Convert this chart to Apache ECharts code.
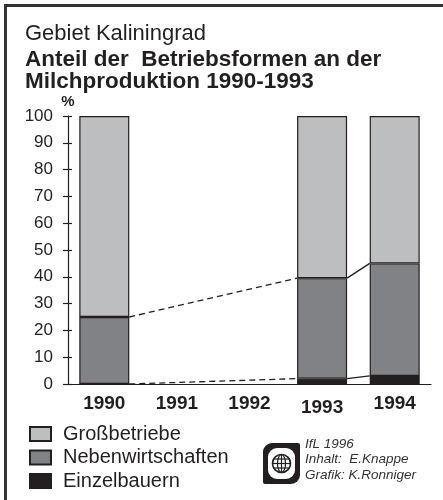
<!DOCTYPE html>
<html>
<head>
<meta charset="utf-8">
<script src="https://cdn.jsdelivr.net/npm/echarts@6/dist/echarts.min.js"></script>
<style>
  html, body { margin: 0; padding: 0; background: #fff; }
  #chart { width: 443px; height: 500px; }
</style>
</head>
<body>
<div id="chart"></div>
<script>
// values (percent of milk production)
const years = ['1990', '1991', '1992', '1993', '1994'];
const einzelbauern = [0, null, null, 2, 3];
const nebenwirtschaften = [25, null, null, 37.5, 42];
const grossbetriebe = [75, null, null, 60.5, 55];
// which bars get joined by the thin connector lines (dashed = years missing in between)
const links = [[0, 3, true], [3, 4, false]];

const BAR_W = 50;
const INK = '#231f20';
const FONT = 'Liberation Sans';

// connector ends sit on the cumulative tops of the lower two segments
const linkData = [];
links.forEach(function (l) {
  const a = l[0], b = l[1];
  linkData.push([a, b, einzelbauern[a], einzelbauern[b], l[2] ? 1 : 0]);
  linkData.push([a, b, einzelbauern[a] + nebenwirtschaften[a], einzelbauern[b] + nebenwirtschaften[b], l[2] ? 1 : 0]);
});

const chart = echarts.init(document.getElementById('chart'));

const barStyle = function (color) {
  return { color: color, borderColor: INK, borderWidth: 1.2 };
};

const option = {
  animation: false,
  backgroundColor: '#fff',
  title: [{
    text: 'Gebiet Kaliningrad',
    left: 20, top: 18,
    textStyle: { fontFamily: FONT, fontSize: 22, fontWeight: 'normal', color: INK }
  }, {
    text: 'Anteil der  Betriebsformen an der\nMilchproduktion 1990-1993',
    left: 20, top: 44,
    textStyle: { fontFamily: FONT, fontSize: 22.5, fontWeight: 'bold', color: INK, lineHeight: 22 }
  }],
  legend: {
    orient: 'vertical',
    left: 24, top: 419,
    itemWidth: 21, itemHeight: 14, itemGap: 3.5,
    icon: 'rect',
    data: ['Großbetriebe', 'Nebenwirtschaften', 'Einzelbauern'],
    textStyle: { fontFamily: FONT, fontSize: 20, color: INK, lineHeight: 20, padding: [0, 0, 0, 7] }
  },
  grid: { left: 68, right: 12, top: 116, bottom: 116, outerBoundsMode: 'none' },
  xAxis: [{
    type: 'category',
    data: years,
    boundaryGap: true,
    axisLine: { lineStyle: { color: INK, width: 1.2 } },
    axisTick: { length: 5, lineStyle: { color: INK, width: 1.2 } },
    axisLabel: {
      interval: 0,
      margin: 10,
      fontFamily: FONT, fontSize: 19, fontWeight: 'bold', color: INK,
      formatter: function (v) { return v === '1993' ? '{lo|' + v + '}' : v; },
      rich: { lo: { fontFamily: FONT, fontSize: 19, fontWeight: 'bold', color: INK, padding: [4, 0, 0, 0] } }
    }
  }, {
    type: 'category',
    data: years,
    position: 'bottom',
    axisLine: { show: false },
    axisTick: { inside: true, length: 4, lineStyle: { color: INK, width: 1.2 } },
    axisLabel: { show: false }
  }],
  yAxis: [{
    type: 'value',
    min: 0, max: 100, interval: 10,
    name: '%',
    nameGap: 7,
    nameTextStyle: { fontFamily: FONT, fontSize: 15, fontWeight: 'bold', color: INK },
    splitLine: { show: false },
    axisLine: { show: true, lineStyle: { color: INK, width: 1.2 } },
    axisTick: { show: true, length: 5, lineStyle: { color: INK, width: 1.2 } },
    axisLabel: { margin: 15, fontFamily: FONT, fontSize: 17, color: INK }
  }, {
    type: 'value',
    min: 0, max: 100, interval: 10,
    position: 'left',
    splitLine: { show: false },
    axisLine: { show: false },
    axisTick: { show: true, inside: true, length: 4, lineStyle: { color: INK, width: 1.2 } },
    axisLabel: { show: false }
  }],
  series: [{
    name: 'Einzelbauern', type: 'bar', stack: 'p', barWidth: BAR_W,
    data: einzelbauern, itemStyle: barStyle(INK)
  }, {
    name: 'Nebenwirtschaften', type: 'bar', stack: 'p', barWidth: BAR_W,
    data: nebenwirtschaften, itemStyle: barStyle('#808285')
  }, {
    name: 'Großbetriebe', type: 'bar', stack: 'p', barWidth: BAR_W,
    data: grossbetriebe, itemStyle: barStyle('#bdbec0')
  }, {
    type: 'custom',
    z: 5,
    silent: true,
    encode: { x: [0, 1], y: [2, 3] },
    data: linkData,
    renderItem: function (params, api) {
      const a = api.coord([api.value(0), api.value(2)]);
      const b = api.coord([api.value(1), api.value(3)]);
      return {
        type: 'line',
        shape: { x1: a[0] + BAR_W / 2, y1: a[1], x2: b[0] - BAR_W / 2, y2: b[1] },
        style: { stroke: INK, lineWidth: 1.3, lineDash: api.value(4) ? [6, 4] : null }
      };
    }
  }],
  graphic: [
    // frame, open at right and bottom like the scan
    { type: 'polyline', shape: { points: [[5.5, 500], [5.5, 5.5], [443, 5.5]] },
      style: { stroke: '#333', lineWidth: 3, fill: null } },
    // IfL logo (rough)
    { type: 'rect', shape: { x: 263, y: 443, width: 37, height: 41, r: [9, 2, 9, 2] }, style: { fill: INK } },
    { type: 'rect', shape: { x: 268, y: 448, width: 27, height: 31, r: 9 }, style: { fill: '#fff' } },
    { type: 'circle', shape: { cx: 281.5, cy: 463.5, r: 9 }, style: { fill: '#fff', stroke: INK, lineWidth: 1.6 } },
    { type: 'ellipse', shape: { cx: 281.5, cy: 463.5, rx: 4, ry: 9 }, style: { fill: null, stroke: INK, lineWidth: 1.2 } },
    { type: 'line', shape: { x1: 281.5, y1: 454.5, x2: 281.5, y2: 472.5 }, style: { stroke: INK, lineWidth: 1.2 } },
    { type: 'line', shape: { x1: 273, y1: 459, x2: 290, y2: 459 }, style: { stroke: INK, lineWidth: 1.2 } },
    { type: 'line', shape: { x1: 272.5, y1: 463.5, x2: 290.5, y2: 463.5 }, style: { stroke: INK, lineWidth: 1.2 } },
    { type: 'line', shape: { x1: 273, y1: 468, x2: 290, y2: 468 }, style: { stroke: INK, lineWidth: 1.2 } },
    {
      type: 'text', left: 305, top: 436,
      style: {
        text: 'IfL 1996\nInhalt:  E.Knappe\nGrafik: K.Ronniger',
        fontFamily: FONT, fontSize: 13.5, fontStyle: 'italic', lineHeight: 15.5, fill: '#333'
      }
    }
  ]
};

chart.setOption(option);
</script>
</body>
</html>
